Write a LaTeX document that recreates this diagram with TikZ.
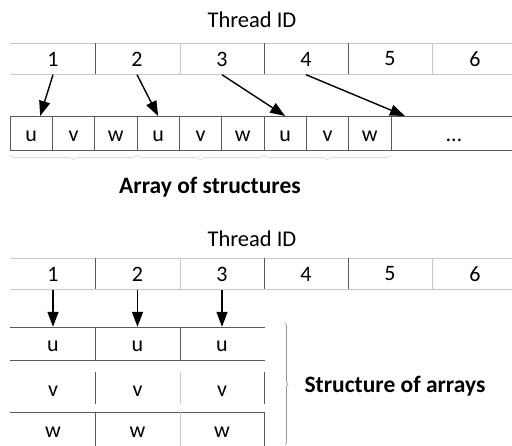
\documentclass[tikz,border=0pt]{standalone}
\usepackage{fontspec}
\setmainfont{Carlito}
\usetikzlibrary{arrows.meta,positioning,decorations.pathreplacing}
\definecolor{darkline}{gray}{0.35}
\definecolor{lightline}{gray}{0.78}
\definecolor{faintline}{gray}{0.85}
\definecolor{braceline}{gray}{0.6}

\begin{document}
\begin{tikzpicture}[x = 1pt, y = -1pt,
  idnum/.style = {minimum height = 31pt, inner sep = 0pt, font = \fontsize{22}{25}\selectfont},
  cell/.style = {draw = darkline, line width = 0.8pt, minimum width = 42.33pt, minimum height = 34pt,
    inner sep = 0pt, outer sep = 0pt, text height = 17pt, text depth = 0pt, font = \fontsize{22}{25}\selectfont},
  soacell/.style = {minimum height = 33pt, inner sep = 0pt, text height = 16pt, text depth = 0pt,
    font = \fontsize{22}{25}\selectfont},
  title/.style = {anchor = base, font = \fontsize{22.5}{26}\selectfont},
  bigtitle/.style = {anchor = base, font = \fontsize{23.5}{27}\bfseries\selectfont},
  dark/.style = {draw = darkline, line width = 0.8pt},
  light/.style = {draw = lightline, line width = 0.8pt},
  arr/.style = {line width = 1.4pt, -{Triangle[length = 15pt, width = 11pt]}},
  faintbrace/.style = {draw = faintline, line width = 0.7pt, decorate}]
\useasboundingbox (0, 0) rectangle (512, 445);

% array of structures
\node[title] (tidA) at (252, 27) {Thread ID};
\draw[light] (10, 43) -- (512, 43);
\draw[light] (10, 74) -- (512, 74);
\draw[dark] (95, 43) -- (95, 74);
\draw[light] (180, 43) -- (180, 74);
\draw[dark] (264, 43) -- (264, 74);
\draw[dark] (348, 43) -- (348, 74);
\draw[light] (432, 43) -- (432, 74);
\node[idnum] (t1) at (53, 59) {1};
\node[idnum] (t2) at (137, 59) {2};
\node[idnum] (t3) at (222, 59) {3};
\node[idnum] (t4) at (306, 59) {4};
\node[idnum] (t5) at (390, 59) {5};
\node[idnum] (t6) at (475, 59) {6};

\node[cell] (a1) at (31.17, 133) {u};
\node[cell, right = 0pt of a1] (a2) {v};
\node[cell, right = 0pt of a2] (a3) {w};
\node[cell, right = 0pt of a3] (a4) {u};
\node[cell, right = 0pt of a4] (a5) {v};
\node[cell, right = 0pt of a5] (a6) {w};
\node[cell, right = 0pt of a6] (a7) {u};
\node[cell, right = 0pt of a7] (a8) {v};
\node[cell, right = 0pt of a8] (a9) {w};
\node[cell, right = 0pt of a9, minimum width = 126pt] (a10) {\dots};

\draw[arr] (t1.south) -- ([xshift = 9pt]a1.north);
\draw[arr] (t2.south) -- (a4.north);
\draw[arr] (t3.south) -- (a7.north);
\draw[arr] (t4.south) -- ([xshift = 14pt]a10.north west);

\draw[faintbrace, decoration = {brace, amplitude = 5pt}] (a3.south east) ++(0, 5) -- ++(-127, 0);
\draw[faintbrace, decoration = {brace, amplitude = 5pt}] (a6.south east) ++(0, 5) -- ++(-127, 0);
\draw[faintbrace, decoration = {brace, amplitude = 5pt}] (a9.south east) ++(0, 5) -- ++(-127, 0);
\node[bigtitle] (aos) at (210, 193) {Array of structures};

% structure of arrays
\node[title] (tidB) at (252, 246) {Thread ID};
\draw[light] (10, 258) -- (512, 258);
\draw[light] (10, 289) -- (512, 289);
\draw[dark] (95, 258) -- (95, 289);
\draw[light] (180, 258) -- (180, 289);
\draw[dark] (264, 258) -- (264, 289);
\draw[dark] (348, 258) -- (348, 289);
\draw[light] (432, 258) -- (432, 289);
\node[idnum] (b1) at (53, 274) {1};
\node[idnum] (b2) at (137.5, 274) {2};
\node[idnum] (b3) at (222, 274) {3};
\node[idnum] (b4) at (306, 274) {4};
\node[idnum] (b5) at (390, 274) {5};
\node[idnum] (b6) at (475, 274) {6};

\node[soacell] (u1) at (53, 343.5) {u};
\node[soacell] (u2) at (137.5, 343.5) {u};
\node[soacell] (u3) at (222, 343.5) {u};
\node[soacell] (v1) at (53, 388) {v};
\node[soacell] (v2) at (137.5, 388) {v};
\node[soacell] (v3) at (222, 388) {v};
\node[soacell] (w1) at (53, 429) {w};
\node[soacell] (w2) at (137.5, 429) {w};
\node[soacell] (w3) at (222, 429) {w};

\draw[dark] (10, 327) -- (265, 327);
\draw[dark] (10, 360) -- (265, 360);
\draw[dark] (95, 327) -- (95, 360);
\draw[dark] (180, 327) -- (180, 360);
\draw[dark] (95, 372) -- (95, 404);
\draw[light] (180, 372) -- (180, 404);
\draw[dark] (264, 372) -- (264, 404);
\draw[dark] (10, 412) -- (265, 412);
\draw[dark] (95, 412) -- (95, 446);
\draw[light] (180, 412) -- (180, 446);
\draw[dark] (264, 412) -- (264, 446);

\draw[arr] (b1.south) -- (u1.north);
\draw[arr] (b2.south) -- (u2.north);
\draw[arr] (b3.south) -- (u3.north);

\draw[faintbrace, draw = braceline, decoration = {brace, amplitude = 3pt}] (285, 323) -- (285, 445);
\node[bigtitle] (soa) at (395, 392) {Structure of arrays};
\end{tikzpicture}
\end{document}
